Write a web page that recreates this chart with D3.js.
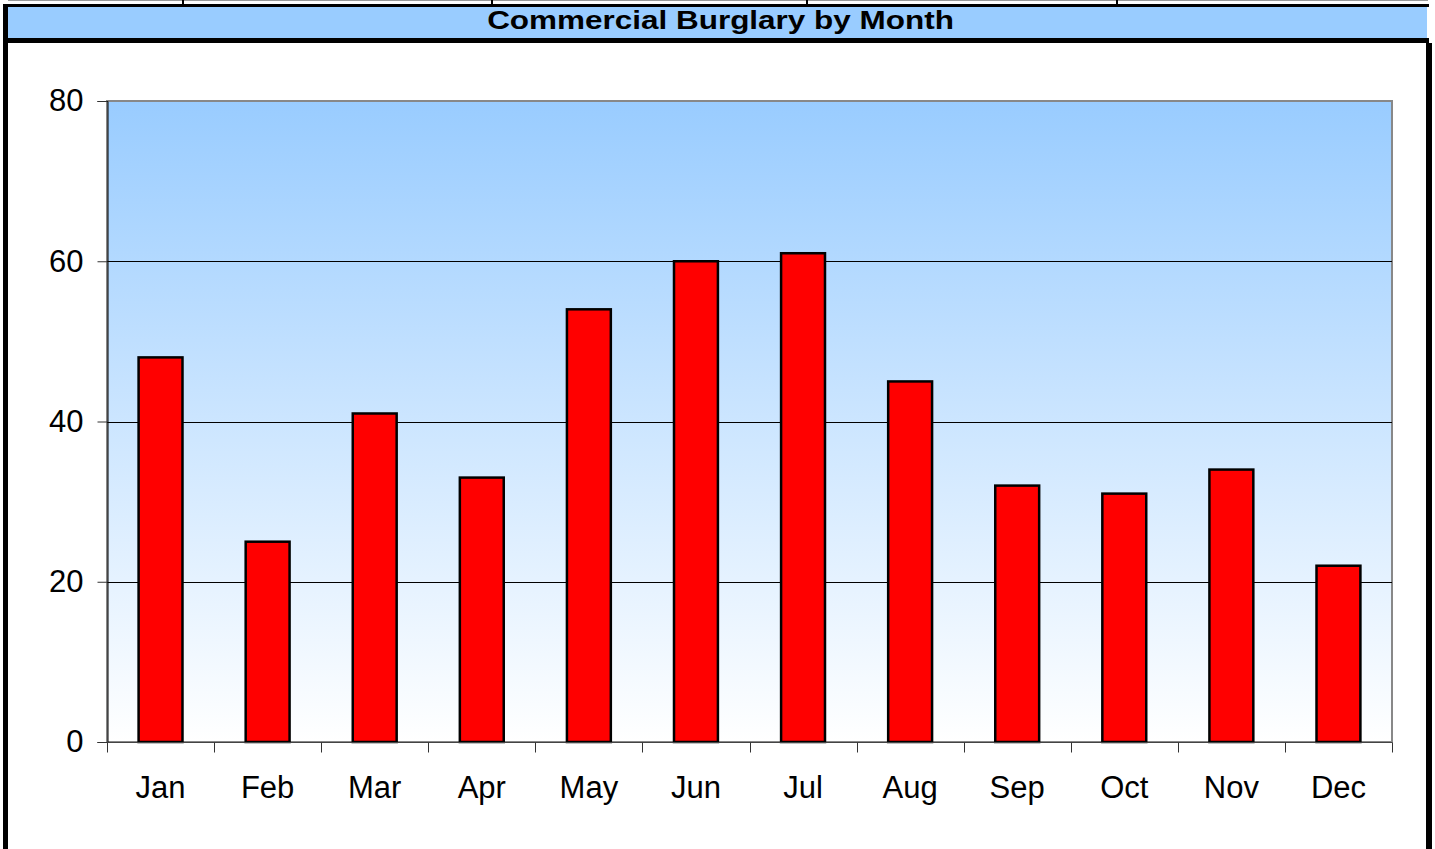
<!DOCTYPE html>
<html>
<head>
<meta charset="utf-8">
<script src="https://cdn.jsdelivr.net/npm/d3@7"></script>
<style>
  html, body { margin: 0; padding: 0; background: #fff; }
  svg { display: block; }
  text { font-family: "Liberation Sans", Arial, sans-serif; }
</style>
</head>
<body>
<svg id="chart" width="1435" height="849"></svg>
<script>
const title = "Commercial Burglary by Month";
const months = ["Jan","Feb","Mar","Apr","May","Jun","Jul","Aug","Sep","Oct","Nov","Dec"];
const burglaries = [48, 25, 41, 33, 54, 60, 61, 45, 32, 31, 34, 22];
const yTicks = [0, 20, 40, 60, 80];

const svg = d3.select("#chart");
const W = 1435, H = 849;
const plot = { left: 107, top: 101, right: 1392, bottom: 742 };

// top decorative strip
svg.append("line").attr("x1", 8).attr("x2", 1428).attr("y1", 0.5).attr("y2", 0.5)
  .attr("stroke", "#999").attr("stroke-width", 1);
[183, 492, 807, 1117].forEach(x => {
  svg.append("line").attr("x1", x).attr("x2", x).attr("y1", 0).attr("y2", 4)
    .attr("stroke", "#000").attr("stroke-width", 2);
});

// title bar
svg.append("rect").attr("x", 3).attr("y", 7).attr("width", 1424).attr("height", 31).attr("fill", "#99CCFF");
svg.append("rect").attr("x", 3).attr("y", 4).attr("width", 1426).attr("height", 3).attr("fill", "#000");
svg.append("rect").attr("x", 3).attr("y", 38).attr("width", 1426).attr("height", 5).attr("fill", "#000");
// outer borders
svg.append("rect").attr("x", 3).attr("y", 4).attr("width", 5).attr("height", H - 4).attr("fill", "#000");
svg.append("rect").attr("x", 1426).attr("y", 43).attr("width", 6).attr("height", H - 43).attr("fill", "#000");

const titleText = svg.append("text").attr("x", 0).attr("y", 0).attr("text-anchor", "middle")
  .attr("font-size", 26.5).attr("font-weight", "bold").attr("fill", "#000").text(title);
const tl = titleText.node().getComputedTextLength() || 400;
titleText.attr("transform", `translate(720.5,28.5) scale(${467 / tl},1)`);

// gradient
const defs = svg.append("defs");
const grad = defs.append("linearGradient").attr("id", "bg").attr("x1", 0).attr("x2", 0).attr("y1", 0).attr("y2", 1);
grad.append("stop").attr("offset", "0%").attr("stop-color", "#99CCFF");
grad.append("stop").attr("offset", "100%").attr("stop-color", "#FFFFFF");

const x = d3.scaleBand().domain(months).range([plot.left, plot.right])
  .paddingInner(0.59).paddingOuter(0.295);
const xCat = d3.scaleBand().domain(months).range([plot.left, plot.right]).padding(0);
const y = d3.scaleLinear().domain([0, 80]).range([plot.bottom, plot.top]);

svg.append("rect").attr("x", plot.left).attr("y", plot.top)
  .attr("width", plot.right - plot.left).attr("height", plot.bottom - plot.top)
  .attr("fill", "url(#bg)").attr("stroke", "#888").attr("stroke-width", 2);

// gridlines
svg.append("g").selectAll("line").data(yTicks.filter(t => t > 0 && t < 80)).join("line")
  .attr("x1", plot.left).attr("x2", plot.right)
  .attr("y1", d => Math.round(y(d)) + 0.5).attr("y2", d => Math.round(y(d)) + 0.5)
  .attr("stroke", "#000").attr("stroke-width", 1);

// bars
svg.append("g").selectAll("rect").data(burglaries).join("rect")
  .attr("x", (d, i) => x(months[i]))
  .attr("y", d => y(d))
  .attr("width", x.bandwidth())
  .attr("height", d => y(0) - y(d))
  .attr("fill", "#FF0000").attr("stroke", "#000").attr("stroke-width", 2.5);

// y axis
const yAxis = d3.axisLeft(y).tickValues(yTicks).tickSize(10).tickPadding(14).tickFormat(d3.format("d"));
const gy = svg.append("g").attr("transform", `translate(${plot.left + 0.5},0)`).call(yAxis);
gy.select(".domain").attr("stroke", "#000").attr("stroke-width", 1);
gy.selectAll(".tick line").attr("stroke", "#333");
gy.selectAll(".tick text").attr("font-size", 31).attr("fill", "#000")
  .attr("font-family", "'Liberation Sans', Arial, sans-serif");

// x axis
const gx = svg.append("g").attr("transform", `translate(0,${plot.bottom + 0.5})`);
gx.append("line").attr("x1", plot.left).attr("x2", plot.right).attr("stroke", "#444").attr("stroke-width", 1);
const bounds = months.map(m => xCat(m)).concat([plot.right]);
gx.selectAll("line.tk").data(bounds).join("line").attr("class", "tk")
  .attr("x1", d => Math.round(d) + 0.5).attr("x2", d => Math.round(d) + 0.5)
  .attr("y1", 0).attr("y2", 10).attr("stroke", "#333");
gx.selectAll("text").data(months).join("text")
  .attr("x", d => xCat(d) + xCat.bandwidth() / 2)
  .attr("y", 55)
  .attr("text-anchor", "middle").attr("font-size", 31).attr("fill", "#000")
  .text(d => d);
</script>
</body>
</html>
